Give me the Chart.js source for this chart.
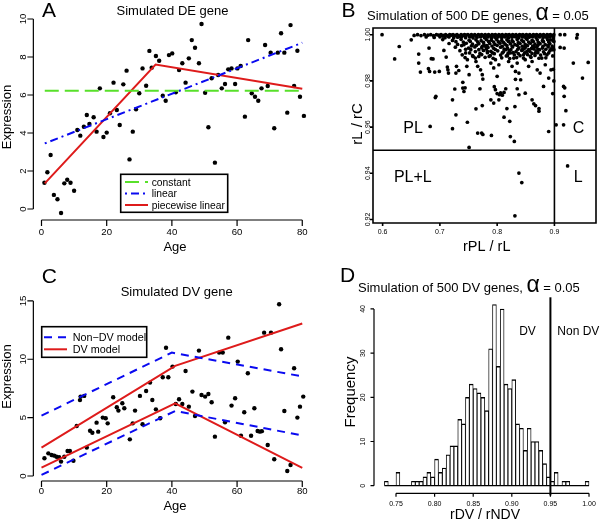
<!DOCTYPE html>
<html>
<head>
<meta charset="utf-8">
<script src="https://cdn.jsdelivr.net/npm/chart.js@4.4.1/dist/chart.umd.min.js"></script>
<style>
  html, body { margin: 0; padding: 0; background: #fff; }
  #wrap { position: relative; width: 600px; height: 520px; overflow: hidden; background: #fff; }
  #wrap canvas { position: absolute; left: 0; top: 0; }
</style>
</head>
<body>
<div id="wrap">
  <canvas id="cA" width="600" height="520"></canvas>
  <canvas id="cB" width="600" height="520"></canvas>
  <canvas id="cC" width="600" height="520"></canvas>
  <canvas id="cD" width="600" height="520"></canvas>
</div>
<script>
// ---- panel A: simulated DE gene ----
const ageA = [0.9,1.8,2.8,3.8,4.9,6.0,7.0,7.9,8.9,10.0, 11.0,11.9,13.0,13.9,14.7,16.0,16.9,17.9,19.0,20.0,
  21.0,22.1,23.1,24.0,25.1,26.1,27.0,28.0,29.0,30.0, 31.0,32.1,33.1,33.8,35.1,36.1,37.2,38.1,39.1,40.1,
  41.2,42.2,43.2,44.2,45.2,46.1,47.1,48.3,49.1,50.2, 51.2,52.2,53.2,54.2,55.3,56.3,57.3,58.3,59.4,60.1,
  61.1,62.4,63.4,64.5,65.5,66.5,67.5,68.6,69.4,70.3, 71.4,72.5,73.5,74.5,75.4,76.4,77.5,78.5,79.3,80.5];
const exprA = [1.38,1.93,2.84,0.74,0.51,-0.21,1.35,1.54,1.38,0.96, 4.16,3.86,4.33,4.95,4.47,4.83,4.07,6.35,3.79,4.02,
  5.04,6.65,5.21,4.42,6.56,7.28,2.61,4.07,5.25,6.09, 7.4,6.49,8.32,7.44,8.05,7.8,5.96,5.7,8.1,8.19,
  6.14,7.31,7.67,6.65,7.93,8.89,8.49,7.67,9.74,6.12, 4.3,6.88,2.44,7.05,6.35,6.58,7.35,7.4,6.58,7.4,
  7.53,4.86,8.89,6.09,5.91,5.7,6.35,8.63,6.47,8.23, 4.25,8.23,9.25,8.23,5.07,9.68,6.47,8.33,5.91,4.9];
const constFitX = [1, 80],     constFitY = [6.22, 6.22];
const linFitX = [1, 80],       linFitY = [3.45, 8.75];
const pwFitX = [1, 35, 80],    pwFitY = [1.35, 7.6, 6.33];
const ageTicks = [0, 20, 40, 60, 80];
const exprTicksA = [0, 2, 4, 6, 8, 10];

// ---- panel C: simulated DV gene ----
const ageC = [0.9,2.1,3.1,3.9,4.6,5.4,6.0,7.0,8.0,8.7, 9.8,10.8,11.8,12.0,13.1,13.9,14.9,15.6,16.9,17.4,
  18.8,19.7,20.3,22.0,23.1,23.6,24.8,25.4,27.1,28.0, 28.7,30.2,31.0,32.1,33.3,34.0,35.1,36.4,37.2,38.2,
  38.9,40.2,41.2,42.2,43.2,44.2,45.2,46.3,47.1,48.3, 49.1,50.2,51.2,52.2,53.2,54.5,55.6,56.3,57.3,58.3,
  59.4,60.2,61.2,62.2,63.3,64.3,65.3,66.3,67.0,67.6, 68.3,69.4,70.4,71.4,72.9,73.5,74.5,75.4,76.4,77.5,
  78.5,79.3,80.3];
const exprC = [1.52,1.94,1.8,1.74,1.65,1.6,1.23,1.65,2.14,2.14, 1.31,4.28,6.5,6.8,6.86,2.43,3.88,3.71,4.57,3.8,
  5.0,4.94,4.51,6.74,5.89,5.6,6.23,5.8,3.14,4.51, 5.6,6.86,4.43,7.28,8.0,6.51,5.71,4.94,8.46,10.99,
  8.46,9.37,6.17,6.57,6.17,9.0,5.94,7.23,5.14,10.74, 6.94,6.8,7.03,6.32,3.37,10.57,10.57,4.6,11.85,6.03,
  6.66,9.8,3.45,5.46,8.8,3.45,5.8,3.86,3.8,3.84, 12.28,2.66,12.28,1.43,14.71,10.86,5.57,0.43,0.94,9.23,
  5.0,5.94,6.8];
const nonDvX = [0, 40, 80],    nonDvUpY = [5.17, 10.57, 8.53];
const nonDvLoX = [0, 41, 80],  nonDvLoY = [0.09, 5.57, 3.47];
const dvX = [0, 41, 80],       dvUpY = [2.43, 9.43, 13.07],  dvLoY = [0.71, 6.23, 0.70];
const exprTicksC = [0, 5, 10, 15];

// ---- panel B: 500 simulated DE genes (rPL/rL, rL/rC) ----
const simDE = [
  [0.599,1.000],[0.655,0.9997],[0.661,1.000],[0.667,0.9996],[0.673,1.000],[0.679,0.9998],[0.684,1.000],[0.689,0.9996],
  [0.694,1.000],[0.698,0.9998],[0.702,1.000],[0.706,0.9997],[0.710,1.000],[0.713,0.9996],[0.717,1.000],[0.720,0.9998],
  [0.723,1.000],[0.727,0.9997],[0.730,1.000],[0.733,0.9995],[0.737,1.000],[0.740,0.9997],[0.743,1.000],[0.746,0.9998],
  [0.749,1.000],[0.752,0.9996],[0.755,1.000],[0.758,0.9997],[0.761,1.000],[0.764,0.9995],[0.767,1.000],[0.770,0.9998],
  [0.773,1.000],[0.776,0.9996],[0.779,1.000],[0.782,0.9997],[0.785,1.000],[0.788,0.9995],[0.791,1.000],[0.794,0.9998],
  [0.797,1.000],[0.800,0.9996],[0.803,1.000],[0.806,0.9997],[0.809,1.000],[0.812,0.9995],[0.815,1.000],[0.818,0.9998],
  [0.821,1.000],[0.824,0.9996],[0.827,1.000],[0.830,0.9997],[0.833,1.000],[0.836,0.9995],[0.839,1.000],[0.842,0.9998],
  [0.845,1.000],[0.848,0.9996],[0.851,1.000],[0.854,0.9997],[0.857,1.000],[0.860,0.9995],[0.863,1.000],[0.866,0.9998],
  [0.869,1.000],[0.872,0.9996],[0.875,1.000],[0.878,0.9997],[0.881,1.000],[0.884,0.9995],[0.887,1.000],[0.890,0.9998],
  [0.893,1.000],[0.896,0.9996],[0.899,1.000],
  [0.705,0.9994],[0.715,0.9993],[0.725,0.9995],[0.735,0.9992],[0.744,0.9994],[0.754,0.9993],[0.763,0.9995],[0.772,0.9992],
  [0.781,0.9994],[0.790,0.9993],[0.800,0.9995],[0.809,0.9992],[0.818,0.9994],[0.827,0.9993],[0.836,0.9995],[0.845,0.9992],
  [0.854,0.9994],[0.863,0.9993],[0.872,0.9995],[0.881,0.9992],[0.890,0.9994],[0.898,0.9993],
  [0.676,0.9990],[0.690,0.9988],[0.700,0.9991],[0.709,0.9987],[0.716,0.9990],[0.724,0.9986],[0.731,0.9989],[0.738,0.9991],
  [0.745,0.9987],[0.752,0.9990],[0.758,0.9986],[0.765,0.9989],[0.771,0.9991],[0.778,0.9987],[0.784,0.9990],[0.790,0.9986],
  [0.796,0.9989],[0.802,0.9991],[0.808,0.9987],[0.814,0.9990],[0.820,0.9986],[0.826,0.9989],[0.832,0.9991],[0.838,0.9987],
  [0.844,0.9990],[0.850,0.9986],[0.856,0.9989],[0.862,0.9991],[0.868,0.9987],[0.874,0.9990],[0.880,0.9986],[0.886,0.9989],
  [0.892,0.9991],[0.898,0.9987],
  [0.705,0.9979],[0.722,0.9975],[0.737,0.9980],[0.751,0.9976],[0.763,0.9978],[0.772,0.9974],[0.781,0.9979],[0.790,0.9976],
  [0.799,0.9980],[0.808,0.9975],[0.817,0.9978],[0.826,0.9974],[0.835,0.9979],[0.843,0.9976],[0.852,0.9980],[0.861,0.9975],
  [0.870,0.9978],[0.879,0.9974],[0.888,0.9979],[0.897,0.9976],
  [0.728,0.9970],[0.741,0.9968],[0.753,0.9971],[0.766,0.9969],[0.776,0.9967],[0.785,0.9971],[0.794,0.9968],[0.802,0.9970],
  [0.811,0.9967],[0.820,0.9971],[0.828,0.9969],[0.837,0.9966],[0.846,0.9970],[0.855,0.9968],[0.863,0.9971],[0.872,0.9967],
  [0.881,0.9970],[0.890,0.9968],[0.899,0.9971],
  [0.716,0.9962],[0.731,0.9958],[0.746,0.9963],[0.757,0.9959],[0.768,0.9961],[0.777,0.9957],[0.787,0.9962],[0.796,0.9958],
  [0.805,0.9963],[0.814,0.9959],[0.823,0.9961],[0.831,0.9957],[0.840,0.9962],[0.849,0.9958],[0.858,0.9963],[0.866,0.9959],
  [0.875,0.9961],[0.884,0.9957],[0.892,0.9962],
  [0.738,0.9953],[0.755,0.9951],[0.764,0.9954],[0.774,0.9950],[0.782,0.9953],[0.791,0.9951],[0.800,0.9954],[0.809,0.9950],
  [0.817,0.9953],[0.826,0.9951],[0.835,0.9954],[0.844,0.9950],[0.853,0.9953],[0.862,0.9951],[0.871,0.9954],[0.880,0.9950],
  [0.889,0.9953],[0.896,0.9951],
  [0.727,0.9946],[0.750,0.9942],[0.761,0.9947],[0.773,0.9943],[0.784,0.9945],[0.794,0.9941],[0.806,0.9946],[0.818,0.9942],
  [0.827,0.9947],[0.838,0.9943],[0.849,0.9945],[0.860,0.9941],[0.869,0.9946],[0.879,0.9942],[0.889,0.9947],[0.898,0.9943],
  [0.745,0.9937],[0.768,0.9935],[0.781,0.9938],[0.797,0.9936],[0.812,0.9938],[0.824,0.9935],[0.836,0.9937],[0.847,0.9939],
  [0.855,0.9936],[0.864,0.9938],[0.874,0.9935],[0.885,0.9937],[0.894,0.9939],
  [0.735,0.9931],[0.762,0.9927],[0.776,0.9932],[0.789,0.9928],[0.801,0.9930],[0.811,0.9926],[0.821,0.9931],[0.833,0.9927],
  [0.843,0.9932],[0.857,0.9928],[0.868,0.9930],[0.881,0.9926],[0.892,0.9931],
  [0.752,0.9921],[0.770,0.9919],[0.783,0.9922],[0.795,0.9918],[0.809,0.9921],[0.819,0.9919],[0.828,0.9922],[0.837,0.9918],
  [0.848,0.9921],[0.861,0.9919],[0.871,0.9922],[0.883,0.9918],[0.890,0.9921],
  [0.739,0.9913],[0.757,0.9909],[0.773,0.9914],[0.788,0.9910],[0.806,0.9912],[0.816,0.9908],[0.830,0.9913],[0.840,0.9909],
  [0.853,0.9914],[0.866,0.9910],[0.876,0.9912],[0.897,0.9908],
  [0.744,0.9901],[0.762,0.9899],[0.779,0.9902],[0.793,0.9898],[0.808,0.9900],[0.822,0.9897],[0.834,0.9901],[0.846,0.9899],
  [0.859,0.9902],[0.873,0.9898],[0.885,0.9900],
  [0.621,0.9895],[0.629,0.9949],[0.650,0.9978],[0.663,0.9916],[0.663,0.9877],[0.666,0.9838],[0.681,0.9942],[0.680,0.9853],
  [0.682,0.9841],[0.685,0.9896],[0.693,0.9733],[0.692,0.9728],[0.699,0.9841],[0.707,0.9932],[0.711,0.9903],[0.714,0.9848],
  [0.715,0.9834],[0.728,0.9834],[0.729,0.9863],[0.726,0.9765],[0.742,0.9957],[0.745,0.9921],[0.748,0.9892],[0.747,0.9863],
  [0.751,0.9827],[0.740,0.9769],[0.742,0.9754],[0.754,0.9935],[0.758,0.9906],[0.763,0.9884],[0.766,0.9863],[0.768,0.9906],
  [0.771,0.9848],[0.774,0.9827],[0.775,0.9808],[0.780,0.9949],[0.783,0.9928],[0.786,0.9906],[0.789,0.9877],[0.792,0.9921],
  [0.794,0.9856],[0.797,0.9892],[0.800,0.9820],[0.803,0.9870],
  [0.795,0.9775],[0.797,0.9762],[0.800,0.9745],[0.804,0.9740],[0.806,0.9748],[0.809,0.9738],[0.812,0.9750],[0.794,0.9704],
  [0.815,0.9935],[0.818,0.9909],[0.820,0.9884],[0.823,0.9921],[0.826,0.9863],[0.829,0.9899],[0.832,0.9841],[0.835,0.9877],
  [0.838,0.9834],[0.841,0.9805],[0.844,0.9935],[0.846,0.9913],[0.849,0.9892],[0.852,0.9928],[0.855,0.9863],[0.858,0.9906],
  [0.861,0.9884],[0.864,0.9949],[0.867,0.9921],[0.870,0.9848],[0.872,0.9935],[0.875,0.9834],[0.878,0.9899],[0.881,0.9776],
  [0.884,0.9870],[0.887,0.9913],[0.890,0.9812],[0.893,0.9978],[0.894,0.9848],[0.896,0.9935],
  [0.899,0.9935],[0.898,0.9850],[0.899,0.9800],[0.897,0.9745],
  [0.683,0.9603],[0.688,0.9895],[0.691,0.9838],[0.713,0.9860],[0.722,0.9718],[0.728,0.9653],[0.722,0.9593],[0.733,0.9845],
  [0.740,0.9794],[0.744,0.9770],[0.748,0.9621],[0.751,0.9512],[0.763,0.9679],[0.766,0.9574],[0.770,0.9766],[0.774,0.9693],
  [0.773,0.9574],[0.775,0.9568],[0.790,0.9564],[0.789,0.9718],[0.803,0.9718],[0.812,0.9643],[0.815,0.9766],[0.817,0.9680],
  [0.823,0.9559],[0.822,0.9625],[0.830,0.9538],[0.832,0.9807],[0.835,0.9766],[0.838,0.9740],[0.831,0.9689],[0.849,0.9747],
  [0.861,0.9718],[0.864,0.9701],[0.867,0.9693],[0.873,0.9680],[0.873,0.9669],[0.890,0.9581],
  [0.838,0.9401],[0.843,0.9360],[0.831,0.9216],
  [0.910,1.000],[0.918,1.000],[0.940,1.000],[0.939,0.9986],[0.917,0.9942],[0.910,0.9945],[0.933,0.9877],[0.959,0.9880],
  [0.949,0.9812],[0.916,0.9776],[0.918,0.9770],[0.917,0.9733],[0.920,0.9671],[0.916,0.9610],[0.903,0.9610],[0.923,0.9432]
];
const thrPL = 0.9, thrL = 0.95;
const rplTicks = [0.6, 0.7, 0.8, 0.9], rplLabels = ['0.6', '0.7', '0.8', '0.9'];
const rlTicks = [0.92, 0.94, 0.96, 0.98, 1.00], rlLabels = ['0.92', '0.94', '0.96', '0.98', '1.00'];

// ---- panel D: 500 simulated DV genes, histogram of rDV/rNDV ----
const dvBinStart = 0.735, dvBinWidth = 0.005;
const dvCounts = [1,0,0,3,0,0,0,1,1,1, 2,3,2,6,3,4,7,9,9,15, 14,20,23,22,21,20,17,31,41,27,
  40,23,22,24,14,13,8,13,10,10, 8,5,2,1,3,0,1,1,0,0, 0,0,1];
const thrDV = 0.95;
const ratioTicks = [0.75, 0.80, 0.85, 0.90, 0.95, 1.00];
const ratioLabels = ['0.75', '0.80', '0.85', '0.90', '0.95', '1.00'];
const freqTicks = [0, 10, 20, 30, 40];

// ---- helpers ----
const FF = '"Liberation Sans", Arial, Helvetica, sans-serif';
Chart.defaults.font.family = FF;
const RED = '#de1b1b', BLUE = '#0a0af0', GREEN = '#58e02a';

function txt(ctx, s, x, y, px, o = {}) {
  ctx.save();
  ctx.font = px + 'px ' + FF;
  ctx.fillStyle = '#000';
  ctx.textAlign = o.align || 'center';
  ctx.textBaseline = 'alphabetic';
  ctx.translate(x, y);
  if (o.rot) ctx.rotate(-Math.PI / 2);
  ctx.fillText(s, 0, 0);
  ctx.restore();
}

// title with a bigger alpha in the middle
function titleParts(ctx, parts, x, y) {
  parts.forEach(([s, px]) => {
    ctx.font = px + 'px ' + FF;
    txt(ctx, s, x, y, px, { align: 'left' });
    x += ctx.measureText(s).width;
  });
}

function drawAxes(chart, o) {
  const { ctx, chartArea: a } = chart;
  const xs = chart.scales.x, ys = chart.scales.y;
  const xp = o.xTicks.map(v => xs.getPixelForValue(v));
  const yp = o.yTicks.map(v => ys.getPixelForValue(v));
  ctx.save();
  ctx.strokeStyle = '#000';
  ctx.lineWidth = o.lw;
  ctx.beginPath();
  if (o.box) {
    ctx.rect(a.left, a.top, a.right - a.left, a.bottom - a.top);
  } else {
    ctx.moveTo(xp[0], a.bottom); ctx.lineTo(xp[xp.length - 1], a.bottom);
    ctx.moveTo(a.left, yp[0]); ctx.lineTo(a.left, yp[yp.length - 1]);
  }
  xp.forEach(p => { ctx.moveTo(p, a.bottom); ctx.lineTo(p, a.bottom + o.tick); });
  yp.forEach(p => { ctx.moveTo(a.left, p); ctx.lineTo(a.left - o.tick, p); });
  ctx.stroke();
  ctx.restore();
  xp.forEach((p, i) => txt(ctx, o.xLabels[i], p, o.xLabY, o.px));
  yp.forEach((p, i) => txt(ctx, o.yLabels[i], o.yLabX, p, o.px, { rot: true }));
}

function drawLegend(chart, lg) {
  const ctx = chart.ctx;
  const [l, t, r, b] = lg.rect;
  ctx.save();
  ctx.fillStyle = '#fff';
  ctx.fillRect(l, t, r - l, b - t);
  ctx.lineWidth = 1.6;
  ctx.strokeStyle = '#000';
  ctx.strokeRect(l, t, r - l, b - t);
  lg.rows.forEach(row => {
    const ds = chart.data.datasets[row.ds];
    ctx.strokeStyle = ds.borderColor;
    ctx.lineWidth = ds.borderWidth;
    ctx.setLineDash(ds.borderDash || []);
    ctx.beginPath();
    ctx.moveTo(lg.x1, row.y); ctx.lineTo(lg.x2, row.y);
    ctx.stroke();
    ctx.setLineDash([]);
    txt(ctx, ds.label, lg.textX, row.y + lg.px * 0.36, lg.px, { align: 'left' });
  });
  ctx.restore();
}

function line(xs, ys, color, width, dash, label) {
  return { type: 'line', label, data: xs.map((x, i) => ({ x, y: ys[i] })), showLine: true,
    pointRadius: 0, borderColor: color, borderWidth: width, borderDash: dash || [],
    fill: false, tension: 0, clip: false };
}
function dots(pts, r) {
  return { type: 'scatter', data: pts.map(([x, y]) => ({ x, y })), pointRadius: r,
    pointBackgroundColor: '#000', pointBorderWidth: 0, borderColor: '#000', showLine: false, clip: 4 };
}
function zip(xs, ys) { return xs.map((x, i) => [x, ys[i]]); }

function makeChart(id, type, area, xr, yr, datasets, draw) {
  return new Chart(document.getElementById(id), {
    type,
    data: { datasets },
    options: {
      responsive: false, animation: false, events: [],
      layout: { padding: { left: area[0], top: area[1], right: 600 - area[2], bottom: 520 - area[3] } },
      plugins: { legend: { display: false }, tooltip: { enabled: false } },
      scales: {
        x: { type: 'linear', display: false, min: xr[0], max: xr[1], offset: false },
        y: { type: 'linear', display: false, min: yr[0], max: yr[1] }
      }
    },
    plugins: [{ id: 'r' + id, afterDatasetsDraw: draw }]
  });
}

// ---- A ----
makeChart('cA', 'scatter', [33.35, 17.1, 312.7, 220], [-2.5, 83.2], [-0.58, 10.1], [
  line(constFitX, constFitY, GREEN, 2, [14, 6], 'constant'),
  line(linFitX, linFitY, BLUE, 2, [2, 4, 8, 4], 'linear'),
  line(pwFitX, pwFitY, RED, 2, [], 'piecewise linear'),
  dots(zip(ageA, exprA), 2.2)
], chart => {
  const ctx = chart.ctx;
  drawAxes(chart, { xTicks: ageTicks, xLabels: ageTicks.map(String), yTicks: exprTicksA,
    yLabels: exprTicksA.map(String), box: false, tick: 6, lw: 1.2, xLabY: 234.5, yLabX: 26, px: 9.6 });
  drawLegend(chart, { rect: [120.7, 174.3, 227.7, 212.3], x1: 125, x2: 148, textX: 151.7, px: 10.3,
    rows: [{ ds: 0, y: 182 }, { ds: 1, y: 193.5 }, { ds: 2, y: 205 }] });
  txt(ctx, 'A', 42, 16.7, 21, { align: 'left' });
  txt(ctx, 'Simulated DE gene', 172.5, 14.5, 13);
  txt(ctx, 'Expression', 11, 117, 13, { rot: true });
  txt(ctx, 'Age', 175, 250.5, 13);
});

// ---- B ----
makeChart('cB', 'scatter', [373, 28, 598, 223], [0.5832, 0.9726], [0.91848, 1.0029], [
  line([thrPL, thrPL], [0.91848, 1.0029], '#000', 1.6),
  line([0.5832, 0.9726], [thrL, thrL], '#000', 1.6),
  dots(simDE, 1.85)
], chart => {
  const ctx = chart.ctx;
  drawAxes(chart, { xTicks: rplTicks, xLabels: rplLabels, yTicks: rlTicks, yLabels: rlLabels,
    box: true, tick: 3, lw: 1.6, xLabY: 233.5, yLabX: 369.5, px: 7 });
  txt(ctx, 'B', 341.5, 16.5, 21, { align: 'left' });
  titleParts(ctx, [['Simulation of 500 DE genes, ', 13], ['\u03B1', 23], [' = 0.05', 13]], 367, 20);
  txt(ctx, 'rL / rC', 361.5, 124, 15, { rot: true });
  txt(ctx, 'rPL / rL', 486.7, 250.5, 14.5);
  txt(ctx, 'PL', 413, 133.3, 16);
  txt(ctx, 'C', 578.6, 133.3, 16);
  txt(ctx, 'PL+L', 412.8, 181.7, 16);
  txt(ctx, 'L', 578.3, 181.7, 16);
});

// ---- C ----
makeChart('cC', 'scatter', [33.35, 297.4, 312.7, 481], [-2.5, 83.2], [-0.43, 15.3], [
  line(nonDvX, nonDvUpY, BLUE, 2, [8, 6], 'Non\u2212DV model'),
  line(nonDvLoX, nonDvLoY, BLUE, 2, [8, 6], 'Non\u2212DV model'),
  line(dvX, dvUpY, RED, 2, [], 'DV model'),
  line(dvX, dvLoY, RED, 2, [], 'DV model'),
  dots(zip(ageC, exprC), 2.2)
], chart => {
  const ctx = chart.ctx;
  drawAxes(chart, { xTicks: ageTicks, xLabels: ageTicks.map(String), yTicks: exprTicksC,
    yLabels: exprTicksC.map(String), box: false, tick: 6, lw: 1.2, xLabY: 493.5, yLabX: 26, px: 9.6 });
  drawLegend(chart, { rect: [41.7, 326.7, 146.7, 357.3], x1: 44, x2: 67, textX: 72.7, px: 10.8,
    rows: [{ ds: 0, y: 337.3 }, { ds: 2, y: 349.3 }] });
  txt(ctx, 'C', 41.7, 283.3, 21, { align: 'left' });
  txt(ctx, 'Simulated DV gene', 176.7, 295.5, 13);
  txt(ctx, 'Expression', 11, 376.5, 13, { rot: true });
  txt(ctx, 'Age', 175, 510, 13);
});

// ---- D ----
const dvBars = dvCounts.map((c, i) => ({ x: dvBinStart + dvBinWidth * (i + 0.5), y: c }));
const dvEnd = dvBinStart + dvBinWidth * dvCounts.length;
makeChart('cD', 'bar', [374, 297.3, 597.2, 493.3], [0.7215, 1.0106], [-1.72, 42.64], [
  line([thrDV, thrDV], [-2.2, 42.64], '#000', 2),
  line([dvBinStart, dvEnd], [0, 0], '#000', 1.3),
  { type: 'bar', data: dvBars, backgroundColor: '#ffffff', borderColor: '#000',
    borderWidth: { top: 1.4, left: 0.9, right: 0.9, bottom: 0 },
    borderSkipped: false, barPercentage: 1, categoryPercentage: 1 }
], chart => {
  const ctx = chart.ctx;
  drawAxes(chart, { xTicks: ratioTicks, xLabels: ratioLabels, yTicks: freqTicks,
    yLabels: freqTicks.map(String), box: false, tick: 3.5, lw: 1.2, xLabY: 505.5, yLabX: 365, px: 7 });
  txt(ctx, 'D', 340, 281.7, 21, { align: 'left' });
  titleParts(ctx, [['Simulation of 500 DV genes, ', 13], ['\u03B1', 23], [' = 0.05', 13]], 358, 291.5);
  txt(ctx, 'Frequency', 355, 392, 15, { rot: true });
  txt(ctx, 'rDV / rNDV', 485, 519, 14);
  txt(ctx, 'DV', 527.5, 335, 12);
  txt(ctx, 'Non DV', 578.3, 335, 12);
});
</script>
</body>
</html>
